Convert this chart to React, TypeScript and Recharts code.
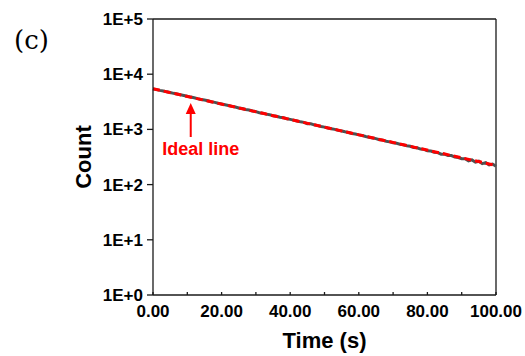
import { LineChart, Line, XAxis, YAxis, ReferenceLine, ReferenceDot } from 'recharts'

// measured counts, one per second
const times = [
  0, 1, 2, 3, 4, 5, 6, 7, 8, 9, 10, 11, 12, 13, 14, 15, 16, 17, 18, 19, 20,
  21, 22, 23, 24, 25, 26, 27, 28, 29, 30, 31, 32, 33, 34, 35, 36, 37, 38, 39, 40,
  41, 42, 43, 44, 45, 46, 47, 48, 49, 50, 51, 52, 53, 54, 55, 56, 57, 58, 59, 60,
  61, 62, 63, 64, 65, 66, 67, 68, 69, 70, 71, 72, 73, 74, 75, 76, 77, 78, 79, 80,
  81, 82, 83, 84, 85, 86, 87, 88, 89, 90, 91, 92, 93, 94, 95, 96, 97, 98, 99, 100,
]
const counts = [
  5420, 5260, 5090, 4950, 4790, 4660, 4500, 4380, 4230, 4110, 3990, 3850, 3750, 3610, 3490, 3400, 3300, 3170, 3090, 2970, 2880,
  2800, 2710, 2610, 2550, 2440, 2390, 2290, 2240, 2150, 2100, 2010, 1970, 1890, 1850, 1770, 1730, 1660, 1630, 1560, 1520,
  1470, 1420, 1370, 1340, 1270, 1260, 1210, 1170, 1130, 1100, 1060, 1030, 1000, 960, 935, 905, 880, 845, 825, 795,
  775, 745, 720, 700, 680, 650, 640, 610, 595, 575, 560, 540, 525, 505, 495, 470, 465, 440, 435, 410,
  405, 385, 380, 355, 355, 335, 335, 315, 310, 295, 295, 270, 280, 255, 265, 240, 250, 228, 236, 215, 226,
]

// fitted (ideal) line end points
const idealTimes = [0, 100]
const idealCounts = [5450, 222]

const yMajorTicks = [1, 10, 100, 1000, 10000, 100000]
const yMinorSteps = [2, 3, 4, 5, 6, 7, 8, 9]
const xTicks = [0, 10, 20, 30, 40, 50, 60, 70, 80, 90, 100]

const measured = times.map((t, i) => ({ t, count: counts[i] }))
const ideal = idealTimes.map((t, i) => ({ t, fit: idealCounts[i] }))
const yMinorTicks = yMajorTicks.slice(0, -1).flatMap((d) => yMinorSteps.map((s) => s * d))

const font = '"Liberation Sans", Arial, sans-serif'
const axisColor = '#1a1a1a'

const Arrow = (p: any) => {
  const { x1, y1, x2, y2 } = p
  return (
    <g>
      <line x1={x1} y1={y1} x2={x2} y2={y2 + 9} stroke="#ff0000" strokeWidth={2} />
      <polygon points={`${x2},${y2} ${x2 - 5},${y2 + 11} ${x2 + 5},${y2 + 11}`} fill="#ff0000" />
    </g>
  )
}

export default function App() {
  return (
    <div style={{ position: 'absolute', left: 0, top: 0, width: 525, height: 356, background: '#fff' }}>
      <div
        style={{
          position: 'absolute',
          left: 14,
          top: 27,
          fontFamily: '"DejaVu Serif", "Liberation Serif", serif',
          fontSize: 26,
          lineHeight: 1,
        }}
      >
        (c)
      </div>
      <LineChart width={525} height={356} margin={{ top: 19, right: 29, bottom: 0, left: 0 }}>
        <XAxis
          dataKey="t"
          type="number"
          domain={[0, 100]}
          ticks={xTicks}
          allowDuplicatedCategory={false}
          tickFormatter={(v: number) => (v % 20 === 0 ? v.toFixed(2) : '')}
          height={61}
          tickSize={-3}
          tickMargin={13}
          stroke={axisColor}
          strokeWidth={1.3}
          tick={{ fill: '#000', fontFamily: font, fontWeight: 700, fontSize: 17 }}
          label={{
            value: 'Time (s)',
            position: 'insideBottom',
            offset: 8,
            fill: '#000',
            style: { fontFamily: font, fontWeight: 700, fontSize: 22 },
          }}
        />
        <YAxis
          yAxisId="main"
          scale="log"
          domain={[1, 100000]}
          ticks={yMajorTicks}
          allowDataOverflow
          width={153}
          tickSize={6}
          tickMargin={4}
          stroke={axisColor}
          strokeWidth={1.3}
          tickFormatter={(v: number) => `1E+${Math.round(Math.log10(v))}`}
          tick={{ fill: '#000', fontFamily: font, fontWeight: 700, fontSize: 17 }}
          label={{
            value: 'Count',
            angle: -90,
            position: 'insideLeft',
            offset: 83,
            fill: '#000',
            style: { textAnchor: 'middle', fontFamily: font, fontWeight: 700, fontSize: 22 },
          }}
        />
        <YAxis
          yAxisId="minor"
          scale="log"
          domain={[1, 100000]}
          ticks={yMinorTicks}
          allowDataOverflow
          mirror
          width={0}
          axisLine={false}
          tickSize={3}
          stroke={axisColor}
          tickFormatter={() => ''}
        />
        <ReferenceLine yAxisId="main" y={100000} stroke={axisColor} strokeWidth={1.3} />
        <ReferenceLine yAxisId="main" x={100} stroke={axisColor} strokeWidth={1.3} />
        <Line
          yAxisId="main"
          data={measured}
          dataKey="count"
          stroke="#505050"
          strokeWidth={3}
          dot={false}
          isAnimationActive={false}
        />
        <Line
          yAxisId="main"
          data={ideal}
          dataKey="fit"
          stroke="#ff0000"
          strokeWidth={3}
          strokeDasharray="7 4"
          dot={false}
          isAnimationActive={false}
        />
        <ReferenceLine
          yAxisId="main"
          segment={[
            { x: 11, y: 728 },
            { x: 11, y: 3010 },
          ]}
          shape={Arrow}
        />
        <ReferenceDot
          yAxisId="main"
          x={13.9}
          y={450}
          r={0}
          fill="none"
          stroke="none"
          label={{
            value: 'Ideal line',
            position: 'center',
            fill: '#ff0000',
            style: { fontFamily: font, fontWeight: 700, fontSize: 18 },
          }}
        />
      </LineChart>
    </div>
  )
}
